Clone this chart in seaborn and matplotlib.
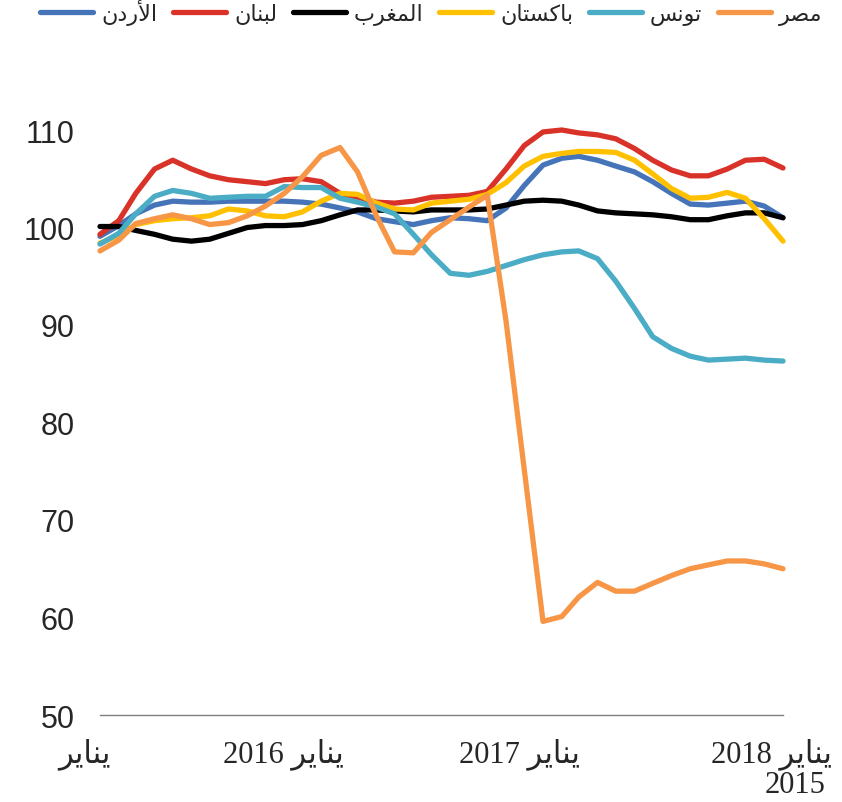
import matplotlib
matplotlib.use("Agg")
import matplotlib.pyplot as plt
import matplotlib.transforms as mtransforms
import seaborn as sns
import pandas as pd

# dados mensais jan/2015 - fev/2018
months = pd.date_range("2015-01-01", periods=38, freq="MS")

jordan = [99.1, 100.2, 101.4, 102.3, 102.7, 102.6, 102.6, 102.7, 102.7, 102.7,
          102.7, 102.6, 102.4, 102.0, 101.6, 100.9, 100.6, 100.3, 100.7, 101.0,
          100.9, 100.7, 102.0, 104.3, 106.4, 107.1, 107.3, 106.9, 106.3, 105.7,
          104.7, 103.5, 102.4, 102.3, 102.5, 102.7, 102.2, 101.0]
lebanon = [99.3, 100.7, 103.5, 106.0, 106.9, 106.0, 105.3, 104.9, 104.7, 104.5,
           104.9, 105.0, 104.7, 103.5, 103.1, 102.6, 102.5, 102.7, 103.1, 103.2,
           103.3, 103.7, 106.0, 108.4, 109.8, 110.0, 109.7, 109.5, 109.1, 108.1,
           106.9, 105.9, 105.3, 105.3, 106.0, 106.9, 107.0, 106.1]
morocco = [100.1, 100.1, 99.7, 99.3, 98.8, 98.6, 98.8, 99.4, 100.0, 100.2,
           100.2, 100.3, 100.7, 101.3, 101.8, 101.8, 101.7, 101.6, 101.8, 101.8,
           101.8, 101.9, 102.3, 102.7, 102.8, 102.7, 102.3, 101.7, 101.5, 101.4,
           101.3, 101.1, 100.8, 100.8, 101.2, 101.5, 101.5, 101.0]
pakistan = [98.4, 99.2, 100.3, 100.7, 100.9, 101.0, 101.2, 101.9, 101.7, 101.2,
            101.1, 101.6, 102.7, 103.5, 103.4, 102.5, 101.9, 101.8, 102.5, 102.7,
            102.9, 103.4, 104.6, 106.3, 107.3, 107.6, 107.8, 107.8, 107.7, 106.9,
            105.5, 104.0, 103.0, 103.1, 103.6, 103.0, 100.9, 98.6]
tunisia = [98.3, 99.4, 101.4, 103.2, 103.8, 103.5, 103.0, 103.1, 103.2, 103.2,
           104.2, 104.1, 104.1, 103.0, 102.6, 102.1, 101.4, 99.3, 97.2, 95.3,
           95.1, 95.5, 96.1, 96.7, 97.2, 97.5, 97.6, 96.8, 94.5, 91.7,
           88.8, 87.6, 86.8, 86.4, 86.5, 86.6, 86.4, 86.3]
egypt = [97.6, 98.7, 100.4, 100.9, 101.3, 100.9, 100.3, 100.5, 101.2, 102.2,
         103.5, 105.2, 107.4, 108.2, 105.7, 101.2, 97.5, 97.4, 99.5, 100.8,
         102.1, 103.3, 90.4, 75.2, 59.6, 60.1, 62.1, 63.6, 62.7, 62.7,
         63.5, 64.3, 65.0, 65.4, 65.8, 65.8, 65.5, 65.0]

names = ["الأردن", "لبنان", "المغرب", "باكستان", "تونس", "مصر"]
values = [jordan, lebanon, morocco, pakistan, tunisia, egypt]
colors = ["#4674B9", "#D93229", "#000000", "#FFC000", "#4BACC6", "#F79646"]

y_ticks = [50, 60, 70, 80, 90, 100, 110]
x_ticks = pd.to_datetime(["2015-01-01", "2016-01-01", "2017-01-01", "2018-01-01"])
x_labels = ["يناير", "يناير 2016", "يناير 2017", "يناير 2018"]
x_label_extra = "2015"

# formas de apresentacao arabes (isolada, final, inicial, medial)
FORMS = {
    "ا": ("\ufe8d", "\ufe8e", None, None),
    "أ": ("\ufe83", "\ufe84", None, None),
    "ب": ("\ufe8f", "\ufe90", "\ufe91", "\ufe92"),
    "ت": ("\ufe95", "\ufe96", "\ufe97", "\ufe98"),
    "د": ("\ufea9", "\ufeaa", None, None),
    "ر": ("\ufead", "\ufeae", None, None),
    "س": ("\ufeb1", "\ufeb2", "\ufeb3", "\ufeb4"),
    "ص": ("\ufeb9", "\ufeba", "\ufebb", "\ufebc"),
    "غ": ("\ufecd", "\ufece", "\ufecf", "\ufed0"),
    "ك": ("\ufed9", "\ufeda", "\ufedb", "\ufedc"),
    "ل": ("\ufedd", "\ufede", "\ufedf", "\ufee0"),
    "م": ("\ufee1", "\ufee2", "\ufee3", "\ufee4"),
    "ن": ("\ufee5", "\ufee6", "\ufee7", "\ufee8"),
    "و": ("\ufeed", "\ufeee", None, None),
    "ي": ("\ufef1", "\ufef2", "\ufef3", "\ufef4"),
}
LAM_ALEF = {"ا": ("\ufefb", "\ufefc"), "أ": ("\ufef7", "\ufef8")}


def shape_word(w):
    out = []
    i = 0
    prev_joins = False
    while i < len(w):
        c = w[i]
        if c == "ل" and i + 1 < len(w) and w[i + 1] in LAM_ALEF:
            iso, fin = LAM_ALEF[w[i + 1]]
            out.append(fin if prev_joins else iso)
            prev_joins = False
            i += 2
            continue
        iso, fin, ini, med = FORMS[c]
        can_next = ini is not None and i + 1 < len(w) and w[i + 1] in FORMS
        if prev_joins and can_next:
            out.append(med)
        elif prev_joins:
            out.append(fin)
        elif can_next:
            out.append(ini)
        else:
            out.append(iso)
        prev_joins = can_next
        i += 1
    return "".join(reversed(out))


def ar(text):
    words = text.split(" ")
    return " ".join(shape_word(w) if w[0] in FORMS else w for w in reversed(words))


rows = []
for name, vals in zip(names, values):
    for m, v in zip(months, vals):
        rows.append({"mes": m, "pais": ar(name), "valor": v})
df = pd.DataFrame(rows)

sns.set_style("white")
plt.rcParams["font.family"] = ["Liberation Sans", "DejaVu Sans"]

fig = plt.figure(figsize=(8.42, 8.03), dpi=100)
ax = fig.add_axes([100 / 842, 87 / 803, 683 / 842, 585 / 803])

sns.lineplot(data=df, x="mes", y="valor", hue="pais",
             hue_order=[ar(n) for n in names], palette=colors,
             linewidth=3.8, ax=ax)
for line in ax.lines:
    line.set_clip_on(False)
    line.set_solid_joinstyle("round")

ax.set_ylim(50, 110)
ax.set_xlim(months[0], months[-1])
ax.set_yticks(y_ticks)
ax.set_yticklabels([str(t) for t in y_ticks], fontsize=22)
ax.set_xticks(x_ticks)
ax.set_xticklabels([ar(l) for l in x_labels], fontsize=22,
                   family=["Liberation Serif", "DejaVu Sans"])
ax.set_xlabel("")
ax.set_ylabel("")

for s in ["left", "top", "right"]:
    ax.spines[s].set_visible(False)
ax.spines["bottom"].set_color("#7f7f7f")
ax.spines["bottom"].set_linewidth(1.0)
ax.tick_params(axis="y", length=0, pad=18)
ax.tick_params(axis="x", direction="in", length=5, width=1.0, color="#7f7f7f", pad=16)

offsets = [-16, -38, -24, 7]
for lab, dx in zip(ax.get_xticklabels(), offsets):
    lab.set_transform(lab.get_transform() +
                      mtransforms.ScaledTranslation(dx / 100, 0, fig.dpi_scale_trans))

fig.text(826 / 842, 1 - 786 / 803, x_label_extra, fontsize=22, ha="right", va="center",
         family="Liberation Serif")

handles, labels = ax.get_legend_handles_labels()
ax.legend_.remove()
fig.legend(handles, labels, loc="upper center", bbox_to_anchor=(0.512, 1.025), ncol=6,
           frameon=False, handlelength=2.4, handletextpad=0.35,
           columnspacing=0.7, prop={"family": "DejaVu Sans", "size": 16})

plt.savefig("out.png", dpi=100)
plt.close()
